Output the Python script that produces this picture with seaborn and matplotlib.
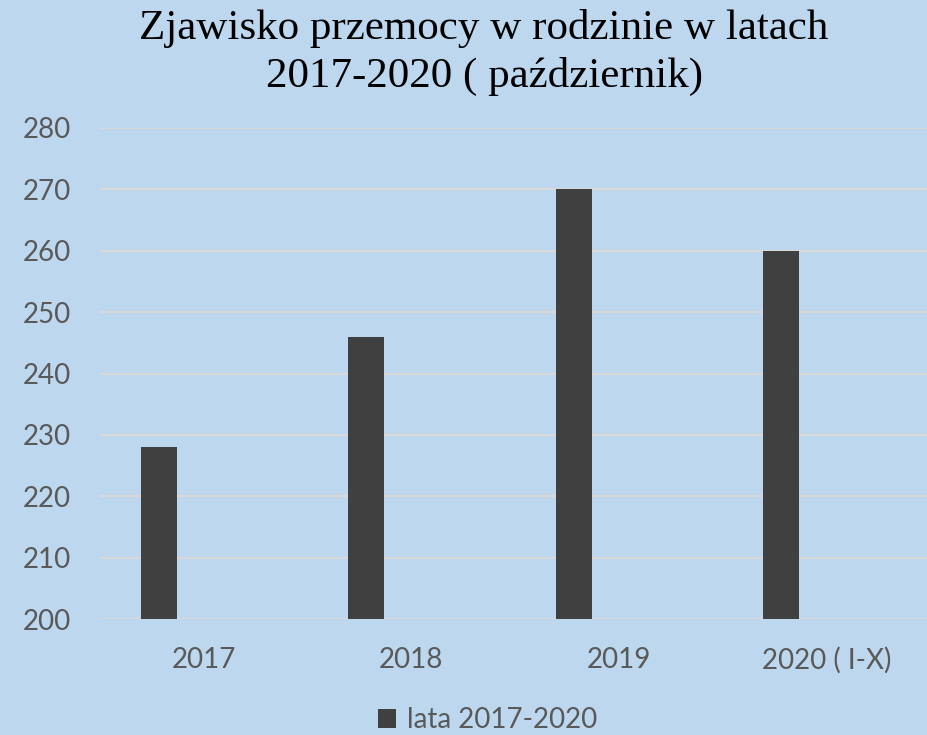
import matplotlib
matplotlib.use("Agg")
import matplotlib.pyplot as plt
import seaborn as sns
import numpy as np
import pandas as pd

categories = ["2017", "2018", "2019", "2020 ( I-X)"]
values = [228, 246, 270, 260]
series_name = "lata 2017-2020"
title_lines = ["Zjawisko przemocy w rodzinie w latach", "2017-2020 ( październik)"]
yticks = [200, 210, 220, 230, 240, 250, 260, 270, 280]

BG = "#BDD7EE"
BAR = "#404040"
TXT = "#595959"
GRID = "#D9D9D9"

sns.set_theme(style="white")
plt.rcParams["font.family"] = ["Lato", "DejaVu Sans"]

W, H = 927, 735
fig = plt.figure(figsize=(W / 100, H / 100), dpi=100, facecolor=BG)
ax = fig.add_axes([100 / W, (H - 619) / H, 830 / W, (619 - 128) / H])
ax.set_facecolor(BG)

bar_offset = -0.217
df = pd.DataFrame({"pos": np.arange(len(categories)) + bar_offset, "value": values})
sns.barplot(data=df, x="pos", y="value", native_scale=True, width=0.173,
            color=BAR, saturation=1, ax=ax, label=series_name, zorder=3)
for p in ax.patches:
    p.set_edgecolor("none")

ax.set_xlim(-0.5, len(categories) - 0.5)
ax.set_ylim(200, 280)
ax.set_yticks(yticks)
ax.set_xticks(np.arange(len(categories)))
ax.set_xticklabels(categories)
ax.set_xlabel("")
ax.set_ylabel("")
ax.tick_params(axis="both", length=0, labelsize=20, labelcolor=TXT)
ax.tick_params(axis="y", pad=21)
ax.tick_params(axis="x", pad=20)
ax.yaxis.grid(True, color=GRID, lw=1.5, zorder=0)
ax.set_axisbelow(True)
for s in ax.spines.values():
    s.set_visible(False)
if ax.get_legend():
    ax.get_legend().remove()

fig.text(484 / W, 1 - 28 / H, title_lines[0], ha="center", va="center",
         fontsize=31, family="Liberation Serif", color="black")
fig.text(484 / W, 1 - 76 / H, title_lines[1], ha="center", va="center",
         fontsize=31, family="Liberation Serif", color="black")

handles, labels = ax.get_legend_handles_labels()
fig.legend(handles, labels, loc="center", bbox_to_anchor=(488 / W, 1 - 720 / H),
           frameon=False, fontsize=20, labelcolor=TXT, handlelength=0.65,
           handleheight=0.65, handletextpad=0.4)

fig.savefig("out.png", dpi=100, facecolor=BG)
